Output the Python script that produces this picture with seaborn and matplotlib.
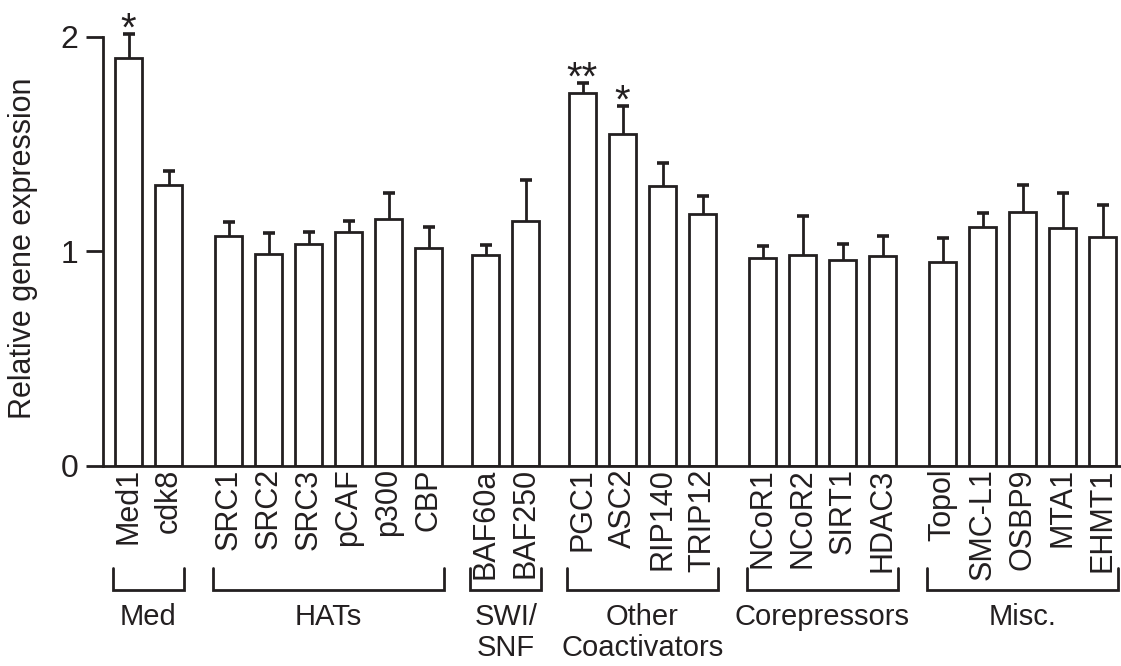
import matplotlib
matplotlib.use("Agg")
import matplotlib.pyplot as plt
import matplotlib.transforms as mtransforms
import numpy as np
import pandas as pd
import seaborn as sns

# Genes, in plotting order, with their functional groups
genes = ["Med1", "cdk8",
         "SRC1", "SRC2", "SRC3", "pCAF", "p300", "CBP",
         "BAF60a", "BAF250",
         "PGC1", "ASC2", "RIP140", "TRIP12",
         "NCoR1", "NCoR2", "SIRT1", "HDAC3",
         "Topol", "SMC-L1", "OSBP9", "MTA1", "EHMT1"]
group_names = ["Med", "HATs", "SWI/\nSNF", "Other\nCoactivators", "Corepressors", "Misc."]
group_sizes = [2, 6, 2, 4, 4, 5]

# Mean relative expression and upper error (SEM)
expression = [1.90, 1.31,
              1.07, 0.985, 1.035, 1.088, 1.148, 1.014,
              0.98, 1.139,
              1.736, 1.548, 1.302, 1.173,
              0.969, 0.98, 0.958, 0.976,
              0.949, 1.112, 1.184, 1.108, 1.067]
sem = [0.112, 0.062,
       0.065, 0.101, 0.052, 0.054, 0.122, 0.100,
       0.047, 0.193,
       0.049, 0.130, 0.107, 0.083,
       0.053, 0.184, 0.075, 0.096,
       0.112, 0.064, 0.123, 0.162, 0.149]
significance = ["*", "", "", "", "", "", "", "", "", "",
                "**", "*", "", "", "", "", "", "", "", "", "", "", ""]

# Layout: spacing between groups (in bar slots)
GROUP_GAPS = [1.5, 1.43, 1.42, 1.5, 1.5]
BAR_WIDTH = 0.68
INK = "#231f20"

positions = []
x = 0.0
for gi, n in enumerate(group_sizes):
    for k in range(n):
        positions.append(x)
        x += 1.0
    if gi < len(GROUP_GAPS):
        x += GROUP_GAPS[gi] - 1.0
positions = np.round(np.array(positions), 3)

df = pd.DataFrame({"gene": genes, "pos": positions,
                   "expression": expression, "sem": sem})

sns.set_style("ticks")
plt.rcParams["font.family"] = ["Liberation Sans", "DejaVu Sans"]
plt.rcParams["text.color"] = INK
plt.rcParams["axes.edgecolor"] = INK
plt.rcParams["xtick.color"] = INK
plt.rcParams["ytick.color"] = INK

W, H = 1121, 666
fig = plt.figure(figsize=(W / 100, H / 100), dpi=100)
y0_px, unit_px, ytop = 465.5, 214.4, 2.15
left_px = 103
ax = fig.add_axes([left_px / W, (H - y0_px) / H, (W - left_px) / W, ytop * unit_px / H])

sns.barplot(data=df, x="pos", y="expression", native_scale=True, width=BAR_WIDTH,
            color="white", saturation=1, edgecolor=INK, linewidth=2.0,
            errorbar=None, ax=ax)

eb = ax.errorbar(df["pos"], df["expression"], yerr=[np.zeros(len(df)), df["sem"]],
                 fmt="none", ecolor=INK, elinewidth=2.0, capsize=4, capthick=2.6,
                 clip_on=False, zorder=1)
eb[1][0].set_visible(False)  # only the upper cap is drawn

slot_px = 40.0
ax.set_xlim((left_px - 128.5) / slot_px, (W - 128.5) / slot_px)
ax.set_ylim(0, ytop)
ax.set_yticks([0, 1, 2])
ax.set_yticklabels(["0", "1", "2"], fontsize=23)
ax.set_xticks(positions)
ax.set_xticklabels(genes, rotation=90, fontsize=22, va="top")
ax.tick_params(axis="x", length=0, pad=2)
ax.tick_params(axis="y", length=12.5, width=2, pad=5)
ax.set_xlabel("")
ax.set_ylabel("")
sns.despine(ax=ax)
ax.spines["left"].set_bounds(0, 2)
ax.spines["left"].set_linewidth(2)
ax.spines["bottom"].set_linewidth(2)

# Significance stars above error bars
for p, m, e, s in zip(positions, expression, sem, significance):
    if s:
        ax.annotate(s, xy=(p, m + e), xytext=(0, -5), textcoords="offset points",
                    ha="center", va="baseline", fontsize=29, clip_on=False)

fig.text(23 / W, 1 - 248 / H, "Relative gene expression", rotation=90,
         ha="center", va="center", fontsize=22)

# Group brackets and names below the gene labels
trans = mtransforms.blended_transform_factory(ax.transData, fig.transFigure)
yb_top, yb_bot = 1 - 568 / H, 1 - 590 / H
start = 0
for name, n in zip(group_names, group_sizes):
    xl = positions[start] - BAR_WIDTH / 2 - 0.05
    xr = positions[start + n - 1] + BAR_WIDTH / 2 + 0.05
    ax.plot([xl, xl, xr, xr], [yb_top, yb_bot, yb_bot, yb_top], color=INK,
            lw=2.0, transform=trans, clip_on=False, solid_joinstyle="miter")
    xc = (positions[start] + positions[start + n - 1]) / 2
    ax.text(xc, 1 - 603 / H, name, transform=trans, ha="center", va="top",
            fontsize=21, linespacing=1.15)
    start += n

fig.savefig("out.png", dpi=100)
